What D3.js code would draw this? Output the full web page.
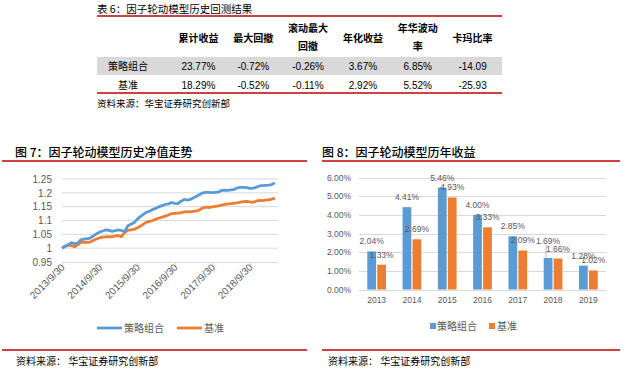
<!DOCTYPE html>
<html>
<head>
<meta charset="utf-8">
<script src="https://cdn.jsdelivr.net/npm/d3@7"></script>
<style>
body { margin: 0; background: #fff; }
svg { display: block; }
.cjk { font-family: "Noto Sans CJK SC", sans-serif; }
.num { font-family: "Liberation Sans", Arial, sans-serif; }
</style>
</head>
<body>
<svg id="fig" width="638" height="369"></svg>
<script>
// ---- données du tableau 6
const entetes = [["累计收益"], ["最大回撤"], ["滚动最大", "回撤"], ["年化收益"], ["年华波动", "率"], ["卡玛比率"]];
const lignes = ["策略组合", "基准"];
const valeursStrategie = ["23.77%", "-0.72%", "-0.26%", "3.67%", "6.85%", "-14.09"];
const valeursBenchmark = ["18.29%", "-0.52%", "-0.11%", "2.92%", "5.52%", "-25.93"];

// ---- données du graphique 7 (valeur nette mensuelle, 2013/9/30 -> 2019/6/30)
const netStrategie = [1.000, 1.008, 1.012, 1.020, 1.016, 1.018, 1.030, 1.033, 1.034, 1.036,
  1.044, 1.052, 1.058, 1.062, 1.066, 1.064, 1.061, 1.063, 1.066, 1.064,
  1.060, 1.080, 1.087, 1.092, 1.104, 1.114, 1.122, 1.130, 1.134, 1.140,
  1.144, 1.150, 1.154, 1.158, 1.160, 1.165, 1.162, 1.161, 1.170, 1.176,
  1.174, 1.176, 1.182, 1.188, 1.194, 1.200, 1.202, 1.202, 1.201, 1.202,
  1.203, 1.209, 1.210, 1.209, 1.211, 1.212, 1.218, 1.220, 1.220, 1.219,
  1.216, 1.217, 1.220, 1.225, 1.226, 1.227, 1.228, 1.230, 1.236, 1.239];
const netBenchmark = [1.000, 1.006, 1.011, 1.009, 1.005, 1.012, 1.021, 1.022, 1.021, 1.022,
  1.028, 1.033, 1.037, 1.040, 1.041, 1.042, 1.041, 1.044, 1.045, 1.042,
  1.056, 1.064, 1.066, 1.068, 1.073, 1.079, 1.087, 1.094, 1.097, 1.100,
  1.105, 1.109, 1.112, 1.116, 1.120, 1.125, 1.126, 1.127, 1.128, 1.131,
  1.132, 1.131, 1.133, 1.135, 1.139, 1.146, 1.148, 1.147, 1.149, 1.151,
  1.153, 1.156, 1.158, 1.160, 1.161, 1.163, 1.164, 1.166, 1.168, 1.169,
  1.167, 1.166, 1.170, 1.173, 1.172, 1.174, 1.175, 1.177, 1.181, 1.184];
const ticksNet = [0.95, 1, 1.05, 1.1, 1.15, 1.2, 1.25];

// ---- données du graphique 8 (rendement annuel, %)
const annees = ["2013", "2014", "2015", "2016", "2017", "2018", "2019"];
const rendStrategie = [2.04, 4.41, 5.46, 4.00, 2.85, 1.69, 1.28];
const rendBenchmark = [1.33, 2.69, 4.93, 3.33, 2.09, 1.66, 1.02];
const ticksRend = [0, 1, 2, 3, 4, 5, 6];

const noms = ["策略组合", "基准"];
const bleu = "#5B9BD5", orange = "#ED7D31", rouge = "#C00000", gris = "#595959", grille = "#D9D9D9";

const svg = d3.select("#fig");

// ================= tableau 6 =================
const tab = svg.append("g");
tab.append("text").attr("class", "cjk").attr("x", 97).attr("y", 13)
  .attr("font-size", 10.5).text("表 6：因子轮动模型历史回测结果");
tab.append("rect").attr("x", 97).attr("y", 57).attr("width", 405).attr("height", 18).attr("fill", "#D9D9D9");
[16, 93].forEach(y => tab.append("line").attr("x1", 97).attr("x2", 502).attr("y1", y).attr("y2", y)
  .attr("stroke", rouge).attr("stroke-width", 1.3));

let xCol = d3.scaleBand().domain(d3.range(entetes.length)).range([171, 500]);

entetes.forEach((e, i) => {
  let t = tab.append("text").attr("class", "cjk").attr("font-weight", 700).attr("font-size", 10)
    .attr("text-anchor", "middle").attr("x", xCol(i) + xCol.bandwidth() / 2);
  if (e.length == 1) {
    t.attr("y", 42).text(e[0]);
  } else {
    t.append("tspan").attr("x", xCol(i) + xCol.bandwidth() / 2).attr("y", 32).text(e[0]);
    t.append("tspan").attr("x", xCol(i) + xCol.bandwidth() / 2).attr("y", 50).text(e[1]);
  }
});

[valeursStrategie, valeursBenchmark].forEach((vals, r) => {
  let y = r == 0 ? 70 : 89;
  tab.append("text").attr("class", "cjk").attr("font-size", 10).attr("text-anchor", "middle")
    .attr("x", 128).attr("y", y).text(lignes[r]);
  tab.selectAll(null).data(vals).join("text")
    .attr("class", "num").attr("font-size", 10).attr("text-anchor", "middle")
    .attr("x", (d, i) => xCol(i) + xCol.bandwidth() / 2).attr("y", y)
    .text(d => d);
});
tab.append("text").attr("class", "cjk").attr("x", 97).attr("y", 107).attr("font-size", 9.5)
  .text("资料来源：华宝证券研究创新部");

// ================= cadres des graphiques =================
function cadre(x1, x2, titre, xt, xs) {
  svg.append("text").attr("class", "cjk").attr("x", xt).attr("y", 157).attr("font-size", 12)
    .attr("font-weight", 500).text(titre);
  [161, 350].forEach(y => svg.append("line").attr("x1", x1).attr("x2", x2).attr("y1", y).attr("y2", y)
    .attr("stroke", rouge).attr("stroke-width", 1.3));
  svg.append("text").attr("class", "cjk").attr("x", xs).attr("y", 365).attr("font-size", 10)
    .text("资料来源： 华宝证券研究创新部");
}
cadre(2, 307, "图 7：因子轮动模型历史净值走势", 15, 16);
cadre(322, 620, "图 8：因子轮动模型历年收益", 322, 328);

// ================= graphique 7 =================
const dates = d3.timeMonth.range(new Date(2013, 9, 1), new Date(2019, 6, 1))
  .map(d => d3.timeDay.offset(d, -1));
const g7 = svg.append("g");
let x7 = d3.scaleTime().domain([new Date(2013, 8, 30), new Date(2019, 5, 30)]).range([62, 278]);
let y7 = d3.scaleLinear().domain([0.95, 1.25]).range([262, 179]);

g7.selectAll(".grille").data(ticksNet.slice(1)).join("line")
  .attr("x1", 62).attr("x2", 278).attr("y1", d => y7(d)).attr("y2", d => y7(d))
  .attr("stroke", grille).attr("stroke-width", 1);

g7.append("g").attr("transform", "translate(0,0)")
  .call(d3.axisLeft(y7).tickValues(ticksNet).tickSize(0).tickPadding(0).tickFormat(d => String(+d.toFixed(2))))
  .call(a => a.select(".domain").remove())
  .call(a => a.selectAll("text").attr("x", 52).attr("class", "num").attr("font-size", 10).attr("fill", gris));
g7.select("g").attr("transform", "translate(0,0)");

const ticksDates = d3.range(2013, 2019).map(a => new Date(a, 8, 30));
g7.append("g").attr("transform", "translate(0,262)")
  .call(d3.axisBottom(x7).tickValues(ticksDates).tickSize(5).tickFormat(d3.timeFormat("%Y/%-m/%-d")))
  .call(a => a.select(".domain").attr("stroke", grille).attr("d", "M62,0.5H278"))
  .call(a => a.selectAll("line").attr("stroke", grille))
  .call(a => a.selectAll("text").attr("class", "num").attr("font-size", 10).attr("fill", gris)
    .attr("text-anchor", "end").attr("dx", 0).attr("dy", 0)
    .attr("transform", "translate(3,6) rotate(-45)").attr("y", 0));

let ligne = d3.line().x((d, i) => x7(dates[i])).y(d => y7(d));
[[netBenchmark, orange], [netStrategie, bleu]].forEach(([s, c]) => {
  g7.append("path").datum(s).attr("d", ligne).attr("fill", "none")
    .attr("stroke", c).attr("stroke-width", 2.8).attr("stroke-linejoin", "round");
});

// légende 7
[[97, bleu, 124], [177, orange, 204]].forEach(([x, c, xt], i) => {
  g7.append("line").attr("x1", x).attr("x2", x + 25).attr("y1", 328).attr("y2", 328)
    .attr("stroke", c).attr("stroke-width", 2.8);
  g7.append("text").attr("class", "cjk").attr("x", xt).attr("y", 332).attr("font-size", 10)
    .attr("fill", gris).text(noms[i]);
});

// ================= graphique 8 =================
const g8 = svg.append("g");
let x8 = d3.scaleBand().domain(annees).range([359, 606]).paddingInner(0.47).paddingOuter(0.235);
let x8s = d3.scaleBand().domain([0, 1]).range([0, x8.bandwidth()]).paddingInner(0.12);
let y8 = d3.scaleLinear().domain([0, 6]).range([289.5, 177.5]);

g8.selectAll(".grille").data(ticksRend).join("line")
  .attr("x1", 359).attr("x2", 606).attr("y1", d => Math.round(y8(d)) + 0.5).attr("y2", d => Math.round(y8(d)) + 0.5)
  .attr("stroke", grille).attr("stroke-width", 1);

g8.selectAll(".ylab").data(ticksRend).join("text")
  .attr("class", "num").attr("font-size", 8.5).attr("fill", gris).attr("text-anchor", "end")
  .attr("x", 351).attr("y", d => y8(d) + 3).text(d => d.toFixed(2) + "%");

g8.selectAll(".xlab").data(annees).join("text")
  .attr("class", "num").attr("font-size", 8.5).attr("fill", gris).attr("text-anchor", "middle")
  .attr("x", d => x8(d) + x8.bandwidth() / 2).attr("y", 303).text(d => d);

[[rendStrategie, bleu], [rendBenchmark, orange]].forEach(([s, c], k) => {
  g8.selectAll(null).data(s).join("rect")
    .attr("x", (d, i) => x8(annees[i]) + x8s(k)).attr("width", x8s.bandwidth())
    .attr("y", d => y8(d)).attr("height", d => y8(0) - y8(d)).attr("fill", c);
});

// étiquettes : on remonte l'étiquette bleue si elle chevauche l'orange
[rendStrategie, rendBenchmark].forEach((s, k) => {
  s.forEach((d, i) => {
    let cx = x8(annees[i]) + x8s(k) + x8s.bandwidth() / 2;
    let y = y8(d) - 10;
    if (k == 0 && Math.abs(d - rendBenchmark[i]) < 0.2) {
      y -= 7;
      g8.append("line").attr("x1", cx - 2).attr("x2", cx - 2).attr("y1", y + 4).attr("y2", y8(d))
        .attr("stroke", "#A6A6A6").attr("stroke-width", 0.8);
    }
    g8.append("text").attr("class", "num").attr("font-size", 8.5).attr("fill", gris)
      .attr("text-anchor", "middle").attr("x", cx).attr("y", y + 3).text(d.toFixed(2) + "%");
  });
});

// légende 8
[[430, bleu, 437], [489, orange, 497]].forEach(([x, c, xt], i) => {
  g8.append("rect").attr("x", x).attr("y", 323).attr("width", 6).attr("height", 6).attr("fill", c);
  g8.append("text").attr("class", "cjk").attr("x", xt).attr("y", 330).attr("font-size", 10)
    .attr("fill", gris).text(noms[i]);
});
</script>
</body>
</html>
